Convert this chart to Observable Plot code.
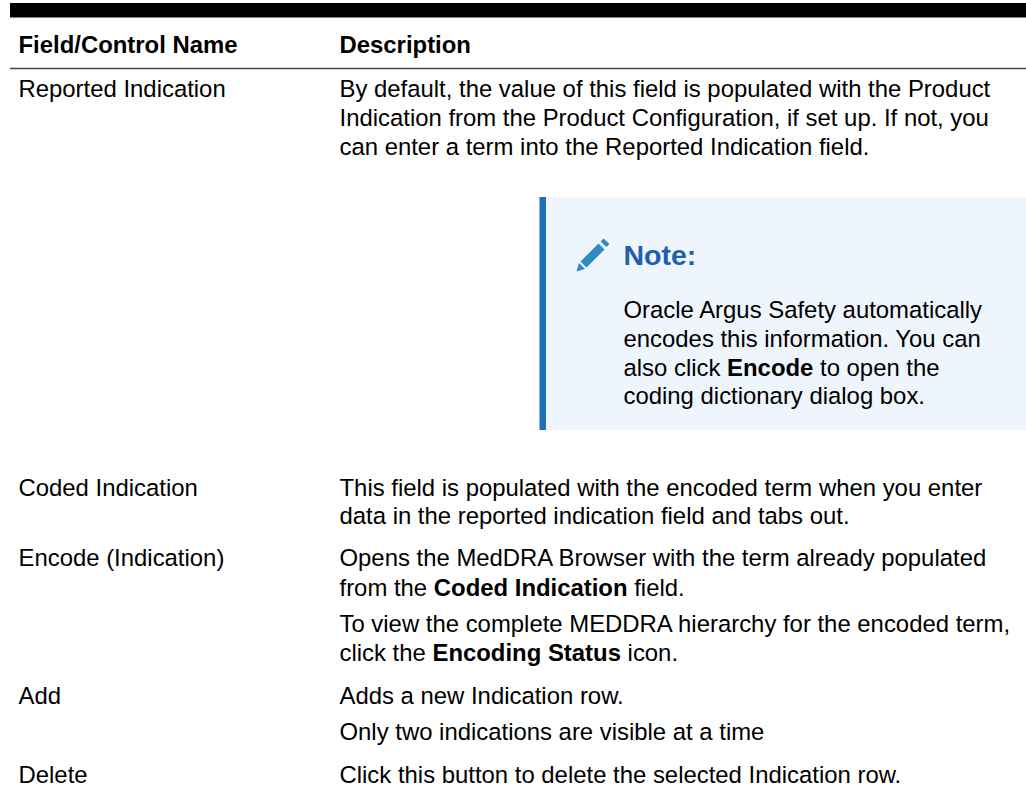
<!DOCTYPE html>
<html><head><meta charset="utf-8">
<script src="https://cdn.jsdelivr.net/npm/d3@7"></script>
<script src="https://cdn.jsdelivr.net/npm/@observablehq/plot@0.6"></script>
<style>html,body{margin:0;padding:0;background:#fff}svg{display:block}</style>
</head><body><div id="chart"></div>
<script>
const headers = ["Field/Control Name", "Description"];
const fieldNames = ["Reported Indication", "Coded Indication", "Encode (Indication)", "Add", "Delete"];
const descriptionLines = [
  "By default, the value of this field is populated with the Product",
  "Indication from the Product Configuration, if set up. If not, you",
  "can enter a term into the Reported Indication field.",
  "This field is populated with the encoded term when you enter",
  "data in the reported indication field and tabs out.",
  "Opens the MedDRA Browser with the term already populated",
  "from the **Coded Indication** field.",
  "To view the complete MEDDRA hierarchy for the encoded term,",
  "click the **Encoding Status** icon.",
  "Adds a new Indication row.",
  "Only two indications are visible at a time",
  "Click this button to delete the selected Indication row."
];
const noteTitle = "Note:";
const noteLines = [
  "Oracle Argus Safety automatically",
  "encodes this information. You can",
  "also click **Encode** to open the",
  "coding dictionary dialog box."
];

// page layout (px), kept apart from the content
const colX = [18, 339], noteX = 623;
const headerY = 52;
const fieldY = [96, 495, 565, 703, 782];
const descY = [96, 125, 154, 495, 523, 565, 595, 631, 660, 703, 739, 782];
const noteTitleY = 264, noteY = [317, 346, 375, 403];
const W = 1026, H = 792;

const rows = [
  ...fieldNames.map((t, i) => ({t, x: colX[0], y: fieldY[i]})),
  ...descriptionLines.map((t, i) => ({t, x: colX[1], y: descY[i]})),
  ...noteLines.map((t, i) => ({t, x: noteX, y: noteY[i]}))
];
const headerRows = headers.map((t, i) => ({t, x: colX[i], y: headerY}));

const pencil = {draw(c) {
  c.moveTo(-16, 16); c.lineTo(-7.5, 13.5); c.lineTo(-13.5, 7.5); c.closePath();
  c.moveTo(-12, 6); c.lineTo(6, -12); c.lineTo(12, -6); c.lineTo(-6, 12); c.closePath();
  c.moveTo(8, -14); c.lineTo(11, -17); c.lineTo(17, -11.5); c.lineTo(14, -8.5); c.closePath();
}};

const font = "'Liberation Sans', Arial, sans-serif";
const baseline = {textAnchor: "start", lineAnchor: "bottom"};
const plot = Plot.plot({
  width: W, height: H, margin: 0,
  x: {domain: [0, W], range: [0, W], axis: null},
  y: {domain: [0, H], range: [0, H], axis: null},
  style: {fontFamily: font, background: "#fff"},
  marks: [
    Plot.rect([{x1: 10, x2: W, y1: 3, y2: 17.5}], {x1: "x1", x2: "x2", y1: "y1", y2: "y2", fill: "#000"}),
    Plot.ruleY([68], {x1: 10, x2: W, stroke: "#444", strokeWidth: 1.5}),
    Plot.rect([{x1: 539.5, x2: W, y1: 197, y2: 430}], {x1: "x1", x2: "x2", y1: "y1", y2: "y2", fill: "#eef5fd"}),
    Plot.rect([{x1: 539.5, x2: 546, y1: 197, y2: 430}], {x1: "x1", x2: "x2", y1: "y1", y2: "y2", fill: "#1f6fbb"}),
    Plot.dot([{x: 592, y: 255}], {x: "x", y: "y", symbol: pencil, r: 3, fill: "#2f8bc1", stroke: "none"}),
    Plot.text([noteTitle], {x: noteX, y: noteTitleY, text: d => d, ...baseline, fontSize: 28.5, fontWeight: "bold", fill: "#1e5fae"}),
    Plot.text(headerRows, {x: "x", y: "y", text: "t", ...baseline, fontSize: 23.9, fontWeight: "bold", fill: "#000"}),
    Plot.text(rows, {x: "x", y: "y", text: "t", ...baseline, fontSize: 23.9, fill: "#000"})
  ]
});
// Render **bold** runs as tspans within the real text elements
d3.select(plot).selectAll("text").each(function() {
  const el = d3.select(this);
  const target = el.select("tspan").empty() ? el : el.select("tspan");
  const s = target.text();
  if (!s.includes("**")) return;
  target.text(null);
  s.split("**").forEach((part, i) => target.append("tspan").attr("font-weight", i % 2 ? "bold" : "normal").text(part));
});
document.getElementById("chart").append(plot);
</script></body></html>
